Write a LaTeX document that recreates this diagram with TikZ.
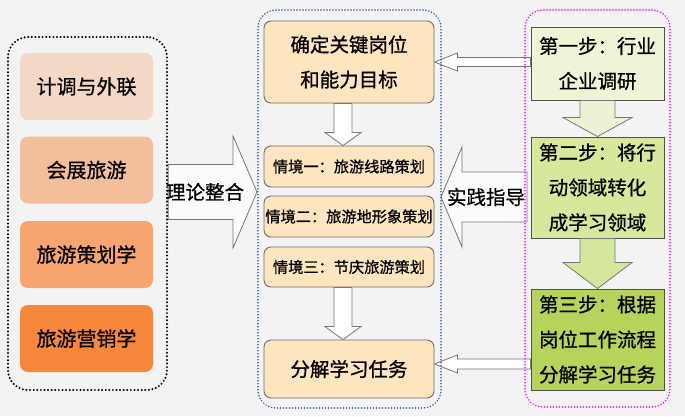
\documentclass[tikz,border=0pt]{standalone}
\usepackage{fontspec}
\newfontfamily\cjk[FakeBold=0.8]{Noto Sans CJK SC}
\usetikzlibrary{calc}
\definecolor{bgc}{HTML}{F3F3F3}
\definecolor{lca}{HTML}{F3D8C6}
\definecolor{lcb}{HTML}{F2BE9C}
\definecolor{lcc}{HTML}{F6A56E}
\definecolor{lcd}{HTML}{F7873A}
\definecolor{mfill}{HTML}{FDE5C0}
\definecolor{mborder}{HTML}{6E6E6E}
\definecolor{gna}{HTML}{EEF4D6}
\definecolor{gnb}{HTML}{D7E89C}
\definecolor{gnc}{HTML}{B6D35A}
\definecolor{gborder}{HTML}{505050}
\definecolor{gara}{HTML}{ECF2D4}
\definecolor{garb}{HTML}{D5E79C}
\definecolor{arrb}{HTML}{777777}
\definecolor{dotblue}{HTML}{2E5C9A}
\definecolor{dotmag}{HTML}{FF00FF}
\pgfdeclarelayer{back}
\pgfsetlayers{back,main}
\begin{document}
\begin{tikzpicture}[x=1pt,y=-1pt,
  lbox/.style={rounded corners=8pt, minimum width=133pt, minimum height=67pt, inner sep=0pt,
    font=\cjk\fontsize{20}{24}\selectfont},
  mbox/.style={draw=mborder, line width=0.9pt, fill=mfill, rounded corners=7pt, minimum width=170pt,
    inner sep=0pt, align=center, font=\cjk\fontsize{19.5}{35}\selectfont},
  sbox/.style={mbox, minimum height=41pt, font=\cjk\fontsize{15.2}{18}\selectfont},
  gbox/.style={draw=gborder, line width=0.9pt, minimum width=133pt, inner sep=0pt, align=center,
    font=\cjk\fontsize{19.5}{35}\selectfont},
  cont/.style={rounded corners=18pt, inner sep=0pt, line cap=round},
  hollow/.style={draw=arrb, line width=0.8pt, fill=white},
  label/.style={font=\cjk\fontsize{19.5}{24}\selectfont, inner sep=0pt}
]
\begin{pgfonlayer}{back}
\fill[bgc] (0,0) rectangle (685,416);
\end{pgfonlayer}
\useasboundingbox (0,0) rectangle (685,416);

% containers
\node[cont, draw=black, line width=2.2pt, dash pattern=on 0pt off 3.6pt, rounded corners=20pt,
  minimum width=159pt, minimum height=353pt] (L) at (87.5,213.5) {};
\node[cont, draw=dotblue, line width=1.7pt, dash pattern=on 0pt off 3pt,
  minimum width=183pt, minimum height=398pt] (M) at (349.5,209) {};
\node[cont, draw=dotmag, line width=1.7pt, dash pattern=on 0pt off 3pt,
  minimum width=145pt, minimum height=397pt] (R) at (597.5,208.5) {};

% left boxes
\node[lbox, fill=lca] (l1) at (86.5,86.5) {计调与外联};
\node[lbox, fill=lcb] (l2) at (86.5,170) {会展旅游};
\node[lbox, fill=lcc] (l3) at (86.5,254.5) {旅游策划学};
\node[lbox, fill=lcd] (l4) at (86.5,338.5) {旅游营销学};

% middle boxes
\node[mbox, minimum height=82pt] (m1) at (349,62) {确定关键岗位\\和能力目标};
\node[sbox] (s1) at (349,166.5) {情境一：旅游线路策划};
\node[sbox] (s2) at (349,216.5) {情境二：旅游地形象策划};
\node[sbox, minimum height=40pt] (s3) at (349,267) {情境三：节庆旅游策划};
\node[mbox, minimum height=58pt] (m4) at (349,369) {分解学习任务};

% green boxes
\node[gbox, fill=gna, minimum height=73pt] (g1) at (597.5,63.5) {第一步：行业\\企业调研};
\node[gbox, fill=gnb, minimum height=101pt] (g2) at (597.5,187.5) {第二步：将行\\动领域转化\\成学习领域};
\node[gbox, fill=gnc, minimum height=101pt] (g3) at (597.5,339.5) {第三步：根据\\岗位工作流程\\分解学习任务};

\coordinate (tipT) at (257,192);
\coordinate (tipP) at (441,197);
\coordinate (endP) at (527,197);

\begin{pgfonlayer}{back}
% theory arrow
\draw[hollow, fill=white!70!bgc] let \p1=(L.east), \p2=(tipT) in
  (\x1,\y2+27.5pt) -- (\x2-24pt,\y2+27.5pt) -- (\x2-24pt,\y2+56pt) -- (\x2,\y2)
  -- (\x2-24pt,\y2-56pt) -- (\x2-24pt,\y2-27.5pt) -- (\x1,\y2-27.5pt) -- cycle;
% practice arrow
\draw[hollow, fill=white!70!bgc] let \p1=(endP), \p2=(tipP) in
  (\x1,\y2+25pt) -- (\x2+21pt,\y2+25pt) -- (\x2+21pt,\y2+50pt) -- (\x2,\y2)
  -- (\x2+21pt,\y2-50pt) -- (\x2+21pt,\y2-25pt) -- (\x1,\y2-25pt) -- cycle;
% thin left arrows
\draw[hollow] let \p1=(g1.west), \p2=(m1.east) in
  (\x1,\y2+4.5pt) -- (\x2+23pt,\y2+4.5pt) -- (\x2+23pt,\y2+9pt) -- (\x2,\y2)
  -- (\x2+23pt,\y2-9pt) -- (\x2+23pt,\y2-4.5pt) -- (\x1,\y2-4.5pt) -- cycle;
\draw[hollow] let \p1=(g3.west), \p2=($(m4.east)+(0,-5)$) in
  (\x1,\y2+5pt) -- (\x2+23pt,\y2+5pt) -- (\x2+23pt,\y2+9pt) -- (\x2,\y2)
  -- (\x2+23pt,\y2-9pt) -- (\x2+23pt,\y2-5pt) -- (\x1,\y2-5pt) -- cycle;
\end{pgfonlayer}

% middle down arrows
\draw[hollow] let \p1=($(m1.south)+(-6,0)$), \p2=(s1.north) in
  (\x1-9pt,\y1) -- (\x1-9pt,\y2+13pt) -- (\x1-18pt,\y2+13pt) -- (\x1,\y2)
  -- (\x1+18pt,\y2+13pt) -- (\x1+9pt,\y2+13pt) -- (\x1+9pt,\y1) -- cycle;
\draw[hollow] let \p1=($(s3.south)+(-6,0)$), \p2=(m4.north) in
  (\x1-9pt,\y1) -- (\x1-9pt,\y2+13pt) -- (\x1-18pt,\y2+13pt) -- (\x1,\y2)
  -- (\x1+18pt,\y2+13pt) -- (\x1+9pt,\y2+13pt) -- (\x1+9pt,\y1) -- cycle;

% green down arrows
\draw[draw=arrb, line width=0.8pt, fill=gara] let \p1=(g1.south), \p2=(g2.north) in
  (\x1-17.5pt,\y1) -- (\x1-17.5pt,\y2+19pt) -- (\x1-34.5pt,\y2+19pt) -- (\x1,\y2)
  -- (\x1+34.5pt,\y2+19pt) -- (\x1+17.5pt,\y2+19pt) -- (\x1+17.5pt,\y1) -- cycle;
\draw[draw=arrb, line width=0.8pt, fill=garb] let \p1=(g2.south), \p2=(g3.north) in
  (\x1-17.5pt,\y1) -- (\x1-17.5pt,\y2+26pt) -- (\x1-34.5pt,\y2+26pt) -- (\x1,\y2)
  -- (\x1+34.5pt,\y2+26pt) -- (\x1+17.5pt,\y2+26pt) -- (\x1+17.5pt,\y1) -- cycle;

% labels
\node[label] (tl) at (205,192) {理论整合};
\node[label] (pl) at (486,197) {实践指导};
\end{tikzpicture}
\end{document}
